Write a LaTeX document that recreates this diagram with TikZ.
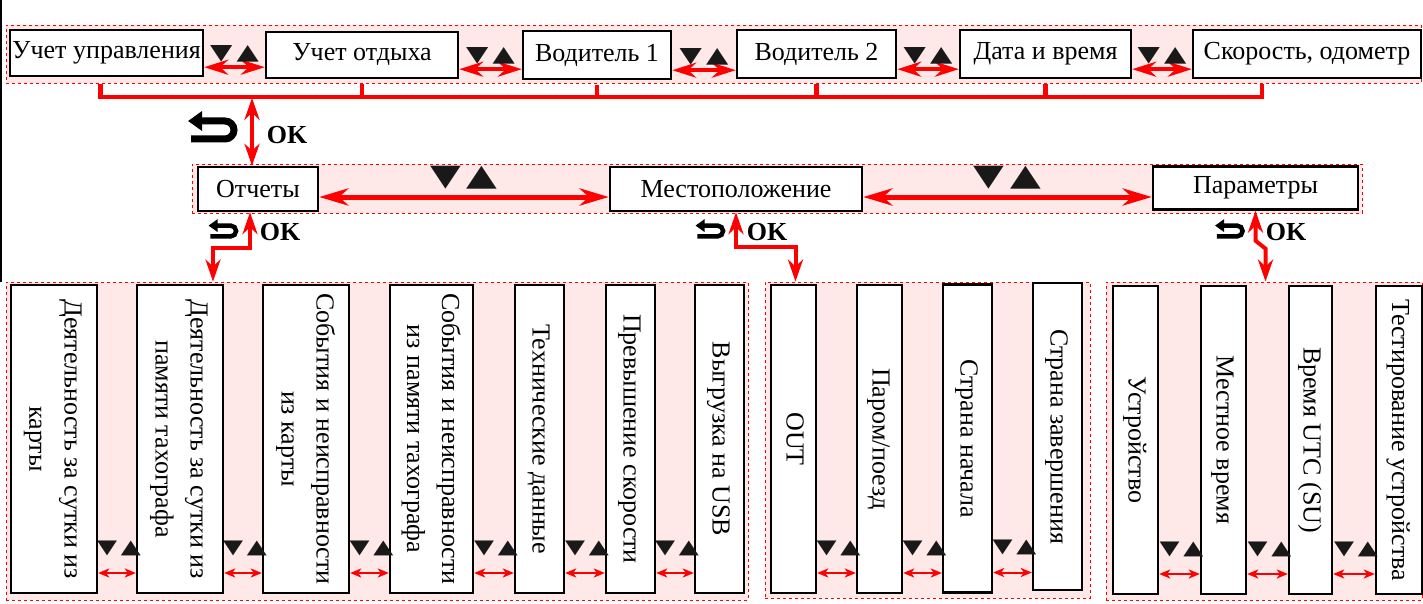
\documentclass[tikz,border=0pt]{standalone}
\usepackage{fontspec}
\usepackage{graphicx}
\setmainfont{Liberation Serif}
\newfontfamily\symfont{DejaVu Sans}
\usetikzlibrary{arrows.meta}

\newcommand\vtext[1]{\rotatebox{-90}{\begin{tabular}{@{}c@{}}#1\end{tabular}}}
\newcommand\updn{\scalebox{1}[0.75]{\symfont ▼\kern0.15em▲}}

\tikzset{
    grp/.style = {draw=red, dashed, fill=red!9, line width=0.9pt, inner sep=0pt},
    menubox/.style = {draw=black, line width=2.4pt, fill=white, inner sep=0pt,
        font=\fontsize{26}{35}\selectfont},
    tallbox/.style = {menubox, minimum height=308pt},
    tri/.style = {font=\fontsize{#1}{#1}\selectfont, text=black!90, inner sep=0pt},
    navtop/.style = {red, line width=4pt,
        {Stealth[length=24pt,width=15pt,inset=8pt]}-{Stealth[length=24pt,width=15pt,inset=8pt]}},
    navmid/.style = {red, line width=5pt,
        {Stealth[length=29pt,width=17pt,inset=9pt]}-{Stealth[length=29pt,width=17pt,inset=9pt]}},
    navv/.style = {red, line width=4pt,
        {Stealth[length=22pt,width=15pt,inset=7pt]}-{Stealth[length=22pt,width=15pt,inset=7pt]}},
    navsm/.style = {red, line width=2pt,
        {Stealth[length=11pt,width=9pt,inset=3pt]}-{Stealth[length=11pt,width=9pt,inset=3pt]}},
    bus/.style = {red, line width=4.5pt},
    oklabel/.style = {font=\fontsize{26}{30}\selectfont\bfseries, inner sep=0pt},
    backsign/.pic = {
        \draw[-{Triangle[length=0pt 2, width=0pt 2.7]}] (-22,9) -- (12,9) arc (90:-90:9) -- (-25,-9);
    }
}

\begin{document}
\begin{tikzpicture}[x=1pt, y=-1pt]
\useasboundingbox (0,0) rectangle (1423,604);
\draw[line width=2pt] (1,0) -- (1,282);

% groups
\node[grp, minimum width=1415pt, minimum height=58pt] (gT) at (713.5,54) {};
\node[grp, minimum width=1170pt, minimum height=49pt] (gM) at (777,188.5) {};
\node[grp, minimum width=742pt, minimum height=318pt] (gA) at (377,441) {};
\node[grp, minimum width=325pt, minimum height=316pt] (gB) at (927.5,440) {};
\node[grp, minimum width=316pt, minimum height=318pt] (gC) at (1264,441) {};

% top row
\node[menubox, minimum width=193pt, minimum height=46pt] (t1) at (106.5,53) {Учет управления};
\node[menubox, minimum width=192pt, minimum height=46pt] (t2) at (362,55) {Учет отдыха};
\node[menubox, minimum width=148pt, minimum height=48pt] (t3) at (597,55) {Водитель 1};
\node[menubox, minimum width=159pt, minimum height=48pt] (t4) at (816.5,54) {Водитель 2};
\node[menubox, minimum width=171pt, minimum height=48pt] (t5) at (1045.5,54) {Дата и время};
\node[menubox, minimum width=228pt, minimum height=48pt] (t6) at (1307,54) {Скорость, одометр};

\foreach \a/\b in {t1/t2,t2/t3,t3/t4,t4/t5,t5/t6}
    \draw[navtop] ([yshift=10pt]\a.south east) -- ([yshift=10pt]\a.south east -| \b.west)
        node[tri=29, midway, yshift=13pt] {\updn};

% bus
\draw[bus] ([xshift=-6pt,yshift=-7pt]t1.south) |- ([xshift=-45pt,yshift=-18pt]t6.south)
    -- ([xshift=-45pt,yshift=-5pt]t6.south);
\foreach \n in {t2,t3,t4,t5}
    \draw[bus] ([yshift=-5pt]\n.south) -- ++(0,13);

% middle row
\node[menubox, minimum width=120pt, minimum height=44pt] (m1) at (258,189) {Отчеты};
\node[menubox, minimum width=252pt, minimum height=44pt] (m2) at (736,189) {Местоположение};
\node[menubox, minimum width=205pt, minimum height=43pt] (m3) at (1255.5,188) {Параметры};

\draw[navv] ([xshift=-6pt]m1.north) -- ++(0,-68);
\pic[line width=7pt] at (213,130) {backsign};
\node[oklabel] (ok0) at (287,135) {OK};

\draw[navmid] ([yshift=-8pt]m1.east) -- ([yshift=-8pt]m1.east -| m2.west)
    node[tri=40, midway, yshift=19pt] {\updn};
\draw[navmid] ([yshift=-8pt]m2.east) -- ([yshift=-8pt]m2.east -| m3.west)
    node[tri=40, midway, yshift=19pt] {\updn};

% down to the lists
\draw[navv] ([xshift=-8pt]m1.south) -- ++(0,36) -| ([xshift=-164pt]gA.north);
\draw[navv] (m2.south) -- ++(0,35) -| ([xshift=-132pt]gB.north);
\draw[navv] (m3.south) -- ++(0,30) -- ++(10,8) -- ([xshift=1.5pt]gC.north);

\pic[line width=4.5pt, scale=0.6] at (223.5,231) {backsign};
\node[oklabel] (ok1) at (280,232) {OK};
\pic[line width=4.5pt, scale=0.6] at (710.5,231) {backsign};
\node[oklabel] (ok2) at (767,232) {OK};
\pic[line width=4.5pt, scale=0.6] at (1230,231) {backsign};
\node[oklabel] (ok3) at (1286,232) {OK};

% reports
\node[tallbox, minimum width=86pt] (A1) at (54,439) {\vtext{Деятельность за сутки из\\карты}};
\node[tallbox, minimum width=86pt] (A2) at (180,439) {\vtext{Деятельность за сутки из\\памяти тахографа}};
\node[tallbox, minimum width=86pt] (A3) at (306,439) {\vtext{События и неисправности\\из карты}};
\node[tallbox, minimum width=83pt] (A4) at (431.5,439) {\vtext{События и неисправности\\из памяти тахографа}};
\node[tallbox, minimum width=49pt] (A5) at (539.5,439) {\vtext{Технические данные}};
\node[tallbox, minimum width=49pt] (A6) at (630.5,439) {\vtext{Превышение скорости}};
\node[tallbox, minimum width=49pt] (A7) at (719.5,439) {\vtext{Выгрузка на USB}};

% location
\node[tallbox, minimum width=45pt] (B1) at (793.5,439) {\vtext{OUT}};
\node[tallbox, minimum width=45pt] (B2) at (879.5,439) {\vtext{Паром/поезд}};
\node[tallbox, minimum width=49pt] (B3) at (967.5,438.5) {\vtext{Страна начала}};
\node[tallbox, minimum width=49pt, minimum height=307pt] (B4) at (1057.5,436.5) {\vtext{Страна завершения}};

% settings
\node[tallbox, minimum width=45pt] (C1) at (1135.5,440) {\vtext{Устройство}};
\node[tallbox, minimum width=45pt] (C2) at (1223.5,440) {\vtext{Местное время}};
\node[tallbox, minimum width=43pt] (C3) at (1310.5,440) {\vtext{Время UTC (SU)}};
\node[tallbox, minimum width=46pt] (C4) at (1399,440) {\vtext{Тестирование устройства}};

\foreach \a/\b in {A1/A2,A2/A3,A3/A4,A4/A5,A5/A6,A6/A7,B1/B2,B2/B3,B3/B4,C1/C2,C2/C3,C3/C4}
    \draw[navsm] ([yshift=-134pt]\a.east) -- ([yshift=-134pt]\a.east -| \b.west)
        node[tri=26, midway, xshift=2pt, yshift=25pt] {\updn};
\end{tikzpicture}
\end{document}
